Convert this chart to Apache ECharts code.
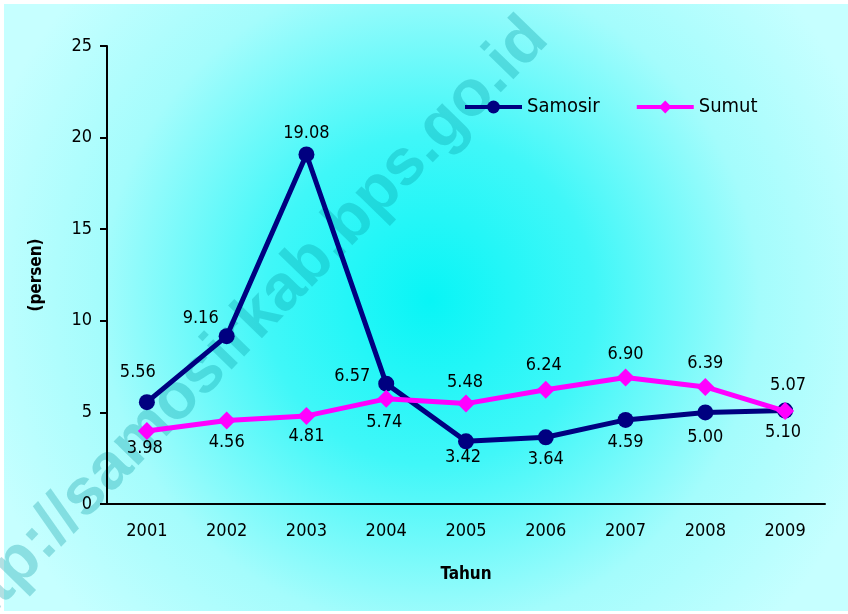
<!DOCTYPE html>
<html>
<head>
<meta charset="utf-8">
<script src="https://cdn.jsdelivr.net/npm/echarts@6/dist/echarts.min.js"></script>
<style>html,body{margin:0;padding:0;background:#fff}#c{width:848px;height:614px}</style>
</head>
<body>
<div id="c"></div>
<script>
var years = ['2001','2002','2003','2004','2005','2006','2007','2008','2009'];
var samosir = [5.56, 9.16, 19.08, 6.57, 3.42, 3.64, 4.59, 5.00, 5.10];
var sumut = [3.98, 4.56, 4.81, 5.74, 5.48, 6.24, 6.90, 6.39, 5.07];
var yTicks = [0, 5, 10, 15, 20, 25];

// label placement (offset from the point, px)
var samosirLabelOffset = [[-9,-30],[-26,-18],[0,-21],[-34,-7],[-3,16],[0,22],[0,22],[0,25],[-2,22]];
var sumutLabelOffset = [[-2,17],[0,22],[0,20],[-2,23],[-1,-21],[-2,-24],[0,-23],[0,-24],[3,-26]];

var FONT = '"DejaVu Sans Condensed","DejaVu Sans",sans-serif';

function withLabels(vals, offs) {
  return vals.map(function (v, i) {
    return { value: v, label: { position: 'inside', offset: offs[i] } };
  });
}

var chart = echarts.init(document.getElementById('c'));
chart.setOption({
  backgroundColor: '#ffffff',
  animation: false,
  graphic: [
    {
      type: 'rect', z: -10, silent: true,
      shape: { x: 4, y: 4, width: 844, height: 607 },
      style: {
        fill: {
          type: 'radial', x: 430, y: 300, r: 470, global: true,
          colorStops: [
            { offset: 0, color: '#08f5f6' },
            { offset: 0.35, color: '#40f7f8' },
            { offset: 0.7, color: '#a4fcfc' },
            { offset: 1, color: '#c6ffff' }
          ]
        }
      }
    },
    {
      type: 'text', z: -5, silent: true,
      x: 242, y: 333, rotation: 0.8,
      style: {
        text: 'http://samosirkab.bps.go.id',
        font: 'bold 65px "Liberation Sans", Arial, sans-serif',
        fill: 'rgba(0,150,160,0.30)',
        align: 'center', verticalAlign: 'middle'
      }
    }
  ],
  legend: {
    left: 458, top: 92,
    itemWidth: 57, itemHeight: 16, itemGap: 35,
    lineStyle: { width: 4 },
    textStyle: { fontFamily: FONT, fontSize: 20, color: '#000' },
    data: ['Samosir', 'Sumut']
  },
  grid: { left: 107, right: 23, top: 46, bottom: 110, containLabel: false },
  xAxis: {
    type: 'category', data: years, boundaryGap: true,
    name: 'Tahun', nameLocation: 'middle', nameGap: 62,
    nameTextStyle: { fontFamily: FONT, fontSize: 17, fontWeight: 'bold', color: '#000' },
    axisLine: { lineStyle: { color: '#000', width: 2 } },
    axisTick: { length: 7, lineStyle: { color: '#000', width: 2 } },
    axisLabel: { fontFamily: FONT, fontSize: 18, color: '#000', margin: 18 },
    splitLine: { show: false }
  },
  yAxis: {
    type: 'value', min: 0, max: 25, interval: 5,
    name: '(persen)', nameLocation: 'middle', nameGap: 62,
    nameTextStyle: { fontFamily: FONT, fontSize: 17, fontWeight: 'bold', color: '#000' },
    axisLine: { show: true, lineStyle: { color: '#000', width: 2 } },
    axisTick: { show: true, length: 7, lineStyle: { color: '#000', width: 2 } },
    axisLabel: {
      fontFamily: FONT, fontSize: 18, color: '#000', margin: 15,
      formatter: function (v) { return yTicks.indexOf(v) >= 0 ? String(v) : ''; }
    },
    splitLine: { show: false }
  },
  series: [
    {
      name: 'Samosir', type: 'line', data: withLabels(samosir, samosirLabelOffset),
      symbol: 'circle', symbolSize: 16,
      lineStyle: { color: '#000080', width: 5 },
      itemStyle: { color: '#000080' },
      label: { show: true, fontFamily: FONT, fontSize: 18, color: '#000',
        formatter: function (p) { return p.value.toFixed(2); } },
      z: 2
    },
    {
      name: 'Sumut', type: 'line', data: withLabels(sumut, sumutLabelOffset),
      symbol: 'diamond', symbolSize: 18,
      lineStyle: { color: '#ff00ff', width: 5 },
      itemStyle: { color: '#ff00ff' },
      label: { show: true, fontFamily: FONT, fontSize: 18, color: '#000',
        formatter: function (p) { return p.value.toFixed(2); } },
      z: 3
    }
  ]
});
</script>
</body>
</html>
